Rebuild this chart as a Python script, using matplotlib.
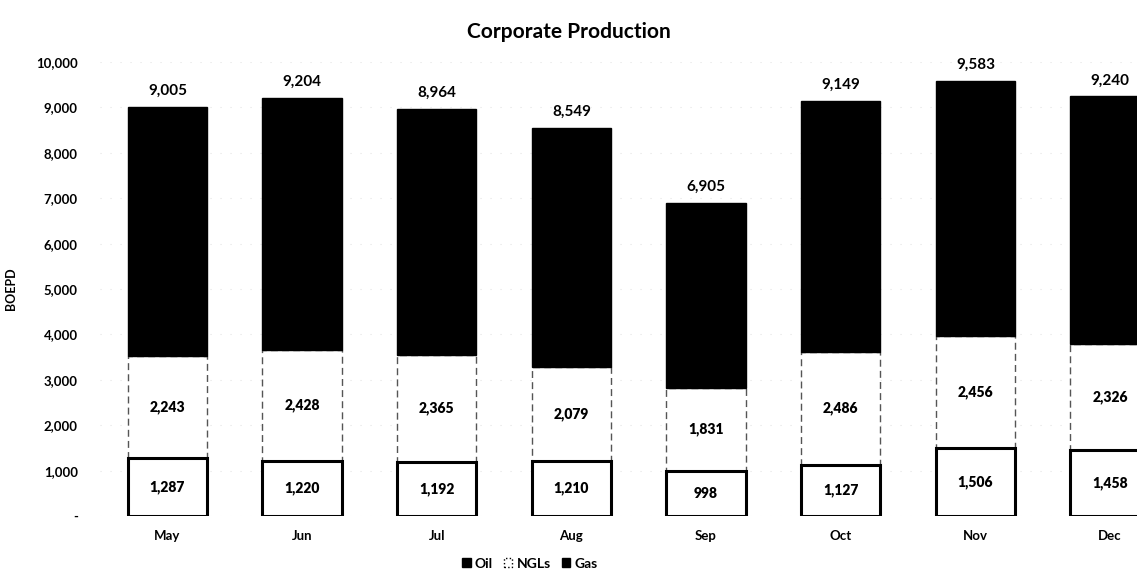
import matplotlib.pyplot as plt
import matplotlib.patches as mpatches
import numpy as np

plt.rcParams['font.family'] = ['Lato', 'DejaVu Sans']

months = ['May', 'Jun', 'Jul', 'Aug', 'Sep', 'Oct', 'Nov', 'Dec']
oil = [1287, 1220, 1192, 1210, 998, 1127, 1506, 1458]
ngls = [2243, 2428, 2365, 2079, 1831, 2486, 2456, 2326]
gas = [5475, 5556, 5407, 5260, 4076, 5536, 5621, 5456]
totals = [9005, 9204, 8964, 8549, 6905, 9149, 9583, 9240]
yticks = [0, 1000, 2000, 3000, 4000, 5000, 6000, 7000, 8000, 9000, 10000]

fig = plt.figure(figsize=(11.37, 5.74), dpi=100)
ax = fig.add_axes([0.088, 0.101, 0.912, 0.791])

x = np.arange(len(months))
w = 0.59

# stacked bars: oil at the bottom, ngls in the middle, gas on top
b_oil = ax.bar(x, oil, w, color='white', edgecolor='black', linewidth=2.2, label='Oil', zorder=3)
b_ngl = ax.bar(x, ngls, w, bottom=oil, color='white', edgecolor='#555555', linewidth=1.0,
               linestyle=(0, (5, 3)), label='NGLs', zorder=2)
base = np.array(oil) + np.array(ngls)
b_gas = ax.bar(x, gas, w, bottom=base, color='black', edgecolor='black', label='Gas', zorder=3)

for i in range(len(months)):
    ax.text(x[i], oil[i] / 2, f'{oil[i]:,}', ha='center', va='center', fontsize=10, fontweight='heavy', zorder=4)
    ax.text(x[i], oil[i] + ngls[i] / 2, f'{ngls[i]:,}', ha='center', va='center', fontsize=10, fontweight='heavy', zorder=4)
    ax.text(x[i], totals[i] + 200, f'{totals[i]:,}', ha='center', va='bottom', fontsize=11, fontweight='bold')

ax.set_xlim(-0.5, 7.2)
ax.set_ylim(0, 10000)
ax.set_yticks(yticks)
ax.set_yticklabels(['-'] + [f'{v:,}' for v in yticks[1:]])
ax.set_xticks(x)
ax.set_xticklabels(months)
ax.tick_params(axis='both', length=0, labelsize=9.5)
for lab in ax.get_xticklabels() + ax.get_yticklabels():
    lab.set_fontweight('bold')
ax.tick_params(axis='x', pad=10)
ax.tick_params(axis='y', pad=16)

ax.yaxis.grid(True, color='#e4e4e4', linestyle=(0, (1, 8)), linewidth=0.8, zorder=0)
ax.set_axisbelow(True)
for s in ax.spines.values():
    s.set_visible(False)

ax.set_ylabel('BOEPD', fontsize=9, fontweight='bold')
ax.yaxis.set_label_coords(-0.08, 0.5)
fig.text(0.5, 0.945, 'Corporate Production', ha='center', va='center', fontsize=15, fontweight='bold')

h_oil = mpatches.Patch(facecolor='black', edgecolor='black', label='Oil')
h_ngl = mpatches.Patch(facecolor='white', edgecolor='black', linestyle=':', label='NGLs')
h_gas = mpatches.Patch(facecolor='black', edgecolor='black', label='Gas')
fig.legend(handles=[h_oil, h_ngl, h_gas], loc='center', bbox_to_anchor=(0.466, 0.018), ncol=3,
           frameon=False, handlelength=0.6, handleheight=0.6, handletextpad=0.3,
           columnspacing=0.8, prop={'weight': 'bold', 'size': 10})

fig.savefig('out.png', dpi=100)
